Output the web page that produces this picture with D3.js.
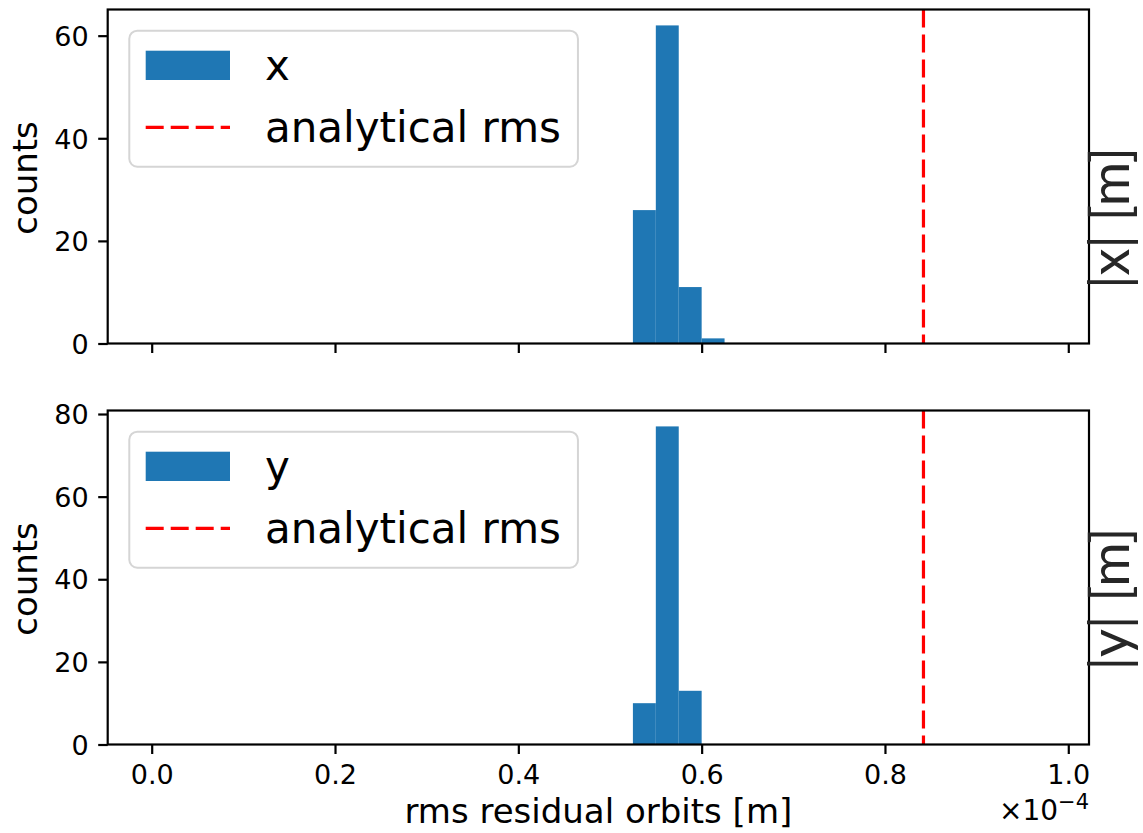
<!DOCTYPE html>
<html>
<head>
<meta charset="utf-8">
<script src="https://cdn.jsdelivr.net/npm/d3@7"></script>
<style>
  html, body { margin: 0; padding: 0; background: #fff; }
  svg { display: block; font-family: "DejaVu Sans", sans-serif; }
</style>
</head>
<body>
<svg id="chart" width="1143" height="833"></svg>
<script>
// ---------------- data (x values in units of 1e-4 m) ----------------
const binEdges = [0.525, 0.55, 0.575, 0.6, 0.625];
const countsX = [26, 62, 11, 1];
const countsY = [10, 77, 13, 0];
const analyticalRmsX = 0.842;
const analyticalRmsY = 0.842;
const xTicks = [0.0, 0.2, 0.4, 0.6, 0.8, 1.0];
const yTicksTop = [0, 20, 40, 60];
const yTicksBottom = [0, 20, 40, 60, 80];
const seriesNames = ["x", "y"];
const rightLabels = ["|x| [m]", "|y| [m]"];
const xLabel = "rms residual orbits [m]";
const yLabel = "counts";
const lineLabel = "analytical rms";

// ---------------- layout ----------------
const svg = d3.select("#chart");
const left = 107.7, right = 1089;
const panels = [
  { top: 9.5, bottom: 343.5, counts: countsX, rms: analyticalRmsX, yTicks: yTicksTop, name: seriesNames[0], rlab: rightLabels[0], rlabY: 218, showX: false },
  { top: 410.5, bottom: 744.5, counts: countsY, rms: analyticalRmsY, yTicks: yTicksBottom, name: seriesNames[1], rlab: rightLabels[1], rlabY: 599, showX: true }
];

const x = d3.scaleLinear().domain([-0.048, 1.0226]).range([left, right]);
const barColor = "#1f77b4";
const tickFont = 27;

panels.forEach(p => {
  const ymax = d3.max(p.counts) * 1.05;
  const y = d3.scaleLinear().domain([0, ymax]).range([p.bottom, p.top]);
  const g = svg.append("g");

  // bars
  const bins = p.counts.map((c, i) => ({ x0: binEdges[i], x1: binEdges[i + 1], c })).filter(d => d.c > 0);
  g.selectAll("rect.bar").data(bins).enter().append("rect")
    .attr("class", "bar")
    .attr("x", d => x(d.x0))
    .attr("width", d => x(d.x1) - x(d.x0))
    .attr("y", d => y(d.c))
    .attr("height", d => y(0) - y(d.c))
    .attr("fill", barColor);

  // analytical rms line
  g.append("line")
    .attr("x1", x(p.rms)).attr("x2", x(p.rms))
    .attr("y1", p.top).attr("y2", p.bottom)
    .attr("stroke", "#ff0000").attr("stroke-width", 3.2)
    .attr("stroke-dasharray", "18,7");

  // y axis
  const ya = g.append("g").attr("transform", `translate(${left},0)`)
    .call(d3.axisLeft(y).tickValues(p.yTicks).tickFormat(d3.format("d")).tickSize(9.5).tickPadding(9.5));
  ya.attr("font-family", null).attr("font-size", null);
  ya.select(".domain").remove();
  ya.selectAll(".tick line").attr("stroke", "#000").attr("stroke-width", 2.2);
  ya.selectAll(".tick text").style("font-size", tickFont + "px").style("font-family", "DejaVu Sans").attr("fill", "#000").attr("dy", "0.36em");

  // x axis
  const xa = g.append("g").attr("transform", `translate(0,${p.bottom})`)
    .call(d3.axisBottom(x).tickValues(xTicks).tickFormat(d3.format(".1f")).tickSize(9.5).tickPadding(9.5));
  xa.attr("font-family", null).attr("font-size", null);
  xa.select(".domain").remove();
  xa.selectAll(".tick line").attr("stroke", "#000").attr("stroke-width", 2.2);
  if (p.showX) {
    xa.selectAll(".tick text").style("font-size", tickFont + "px").style("font-family", "DejaVu Sans").attr("fill", "#000").attr("dy", "0.76em");
  } else {
    xa.selectAll(".tick text").remove();
  }

  // spines
  g.append("rect")
    .attr("x", left).attr("y", p.top)
    .attr("width", right - left).attr("height", p.bottom - p.top)
    .attr("fill", "none").attr("stroke", "#000").attr("stroke-width", 2.2);

  // y label
  const cy = (p.top + p.bottom) / 2 + 1.5;
  g.append("text")
    .attr("transform", `translate(37,${cy}) rotate(-90)`)
    .attr("text-anchor", "middle")
    .style("font-size", "34px")
    .text(yLabel);

  // right label
  g.append("text")
    .attr("transform", `translate(1129,${p.rlabY}) rotate(-90)`)
    .attr("text-anchor", "middle")
    .style("font-family", "Lato")
    .style("font-size", "54px")
    .attr("fill", "#262626")
    .text(p.rlab);

  // legend
  const lg = g.append("g").attr("transform", `translate(${left},${p.top})`);
  const box = lg.append("rect")
    .attr("x", 21.6).attr("y", 21.2).attr("height", 136).attr("rx", 8).attr("ry", 8)
    .attr("fill", "#fff").attr("stroke", "#d5d5d5").attr("stroke-width", 2);
  lg.append("rect").attr("x", 38).attr("y", 41.2).attr("width", 84.3).attr("height", 29.3).attr("fill", barColor);
  lg.append("line").attr("x1", 38).attr("x2", 122.3).attr("y1", 117.8).attr("y2", 117.8)
    .attr("stroke", "#ff0000").attr("stroke-width", 3.2).attr("stroke-dasharray", "18,7");
  lg.append("text").attr("x", 157.3).attr("y", 70.5).style("font-size", "42px").text(p.name);
  const t2 = lg.append("text").attr("x", 157.3).attr("y", 132.2).style("font-size", "42px").text(lineLabel);
  const tw = t2.node().getComputedTextLength();
  box.attr("width", 157.3 + tw + 17 - 21.6);
});

// x label
svg.append("text")
  .attr("x", (left + right) / 2).attr("y", 823)
  .attr("text-anchor", "middle").style("font-size", "34px")
  .text(xLabel);

// offset text ×10^-4
const off = svg.append("text")
  .attr("x", right).attr("y", 820)
  .attr("text-anchor", "end").style("font-size", "28px");
off.append("tspan").text("×10");
off.append("tspan").attr("dy", -11).style("font-size", "21px").text("−4");
</script>
</body>
</html>
